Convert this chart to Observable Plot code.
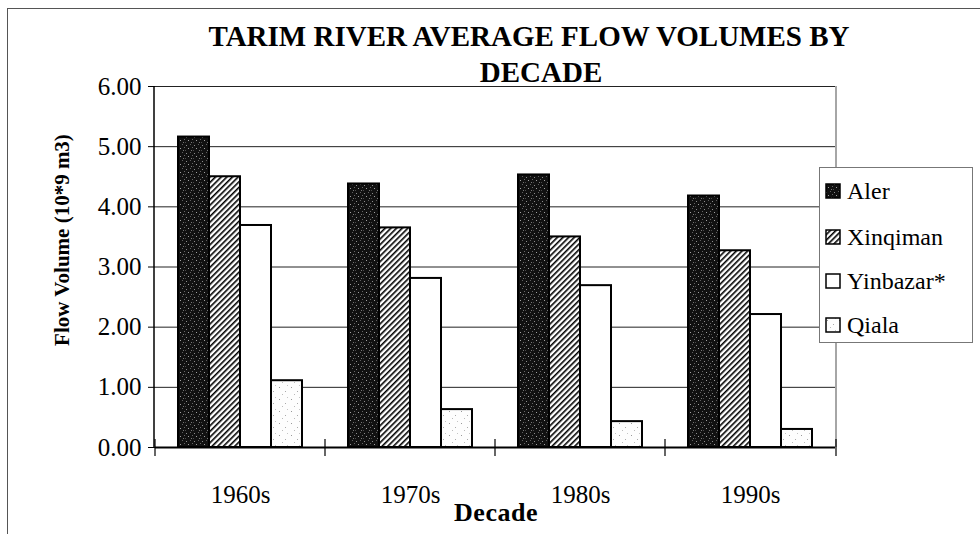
<!DOCTYPE html>
<html>
<head>
<meta charset="utf-8">
<script src="https://cdn.jsdelivr.net/npm/d3@7"></script>
<script src="https://cdn.jsdelivr.net/npm/@observablehq/plot@0.6"></script>
<style>
  html, body { margin: 0; padding: 0; background: #fff; }
  body { font-family: "Liberation Serif", "Times New Roman", serif; color: #000; }
  #wrap { position: relative; width: 980px; height: 534px; overflow: hidden; background: #fff; }
  #border { position: absolute; left: 7px; top: 8px; width: 980px; height: 540px;
            border-left: 1.5px solid #555; border-top: 1.5px solid #555; }
  #chart { position: absolute; left: 0; top: 0; }
  .title { position: absolute; font-weight: bold; font-size: 29px; line-height: 29px;
           text-align: center; white-space: nowrap; }
  #ylabel { position: absolute; left: 62px; top: 240px; font-weight: bold; font-size: 21px;
            white-space: nowrap; transform: translate(-50%, -50%) rotate(-90deg); line-height: 21px; }
  #xlabel { position: absolute; left: 496px; top: 500px; font-weight: bold; font-size: 26px;
            line-height: 26px; transform: translateX(-50%); white-space: nowrap; letter-spacing: 0.5px; }
  #legend { position: absolute; left: 819px; top: 167px; width: 154px; height: 176px;
            border: 1px solid #777; background: #fff; box-sizing: border-box; }
  .lrow { position: absolute; left: 5px; height: 26px; display: flex; align-items: center;
          font-size: 24px; line-height: 26px; white-space: nowrap; }
  .lrow svg { margin-right: 6px; }
</style>
</head>
<body>
<div id="wrap">
  <svg width="0" height="0" style="position:absolute">
    <defs>
      <pattern id="pAler" width="8" height="8" patternUnits="userSpaceOnUse">
        <rect width="8" height="8" fill="#111"/>
        <rect x="1" y="1" width="1" height="1" fill="#8c8c8c"/>
        <rect x="5" y="0" width="1" height="1" fill="#5e5e5e"/>
        <rect x="3" y="4" width="1" height="1" fill="#a0a0a0"/>
        <rect x="6" y="6" width="1" height="1" fill="#777"/>
        <rect x="0" y="6" width="1" height="1" fill="#4a4a4a"/>
        <rect x="7" y="3" width="1" height="1" fill="#666"/>
      </pattern>
      <pattern id="pXin" width="4" height="4" patternUnits="userSpaceOnUse" patternTransform="rotate(45)">
        <rect width="4" height="4" fill="#fff"/>
        <rect width="1.6" height="4" fill="#000"/>
      </pattern>
      <pattern id="pYin" width="4" height="4" patternUnits="userSpaceOnUse">
        <rect width="4" height="4" fill="#fff"/>
      </pattern>
      <pattern id="pQia" width="12" height="12" patternUnits="userSpaceOnUse">
        <rect width="12" height="12" fill="#fdfdfd"/>
        <rect x="2" y="3" width="1" height="1" fill="#999"/>
        <rect x="8" y="7" width="1" height="1" fill="#aaa"/>
        <rect x="5" y="10" width="1" height="1" fill="#bbb"/>
        <rect x="10" y="1" width="1" height="1" fill="#c4c4c4"/>
      </pattern>
    </defs>
  </svg>
  <div id="border"></div>
  <div id="chart"></div>
  <div class="title" style="left:0; width:1058px; top:22px;">TARIM RIVER AVERAGE FLOW VOLUMES BY</div>
  <div class="title" style="left:0; width:1082px; top:58px;">DECADE</div>
  <div id="ylabel">Flow Volume (10*9 m3)</div>
  <div id="xlabel">Decade</div>
  <div id="legend"></div>
</div>
<script>
// ---- data ----
const decades = ["1960s", "1970s", "1980s", "1990s"];
const stations = ["Aler", "Xinqiman", "Yinbazar*", "Qiala"];
const aler     = [5.16, 4.38, 4.53, 4.18];
const xinqiman = [4.50, 3.65, 3.50, 3.27];
const yinbazar = [3.69, 2.81, 2.69, 2.21];
const qiala    = [1.11, 0.63, 0.43, 0.30];
const yTicks = [0, 1, 2, 3, 4, 5, 6];

const series = [aler, xinqiman, yinbazar, qiala];
const fills = ["url(#pAler)", "url(#pXin)", "url(#pYin)", "url(#pQia)"];

const rows = [];
decades.forEach((d, i) => stations.forEach((s, j) => rows.push({decade: d, station: s, value: series[j][i]})));

const chart = Plot.plot({
  width: 980,
  height: 534,
  marginLeft: 154,
  marginRight: 144,
  marginTop: 86,
  marginBottom: 87,
  style: {fontFamily: "Liberation Serif, Times New Roman, serif", fontSize: "25px", color: "#000", background: "transparent", overflow: "visible"},
  facet: {data: rows, x: "decade"},
  fx: {domain: decades, padding: 0, label: null, axis: "bottom", tickSize: 0, tickPadding: 38},
  x: {domain: stations, paddingInner: 0, paddingOuter: 0.71, axis: null},
  y: {domain: [0, 6], ticks: yTicks, tickFormat: d3.format(".2f"), tickSize: 7, tickPadding: 7, label: null},
  color: {domain: stations, range: fills},
  marks: [
    Plot.ruleY(yTicks.filter(v => v > 0), {stroke: "#222", strokeWidth: 1}),
    Plot.barY(rows, {x: "station", y: "value", fill: "station", stroke: "#000", strokeWidth: 2}),
    Plot.ruleY([0], {stroke: "#000", strokeWidth: 2})
  ]
});
document.getElementById("chart").appendChild(chart);

// frame lines and category boundary ticks, from the plot's own scales
const fxS = chart.scale("fx");
const yS = chart.scale("y");
const y0 = yS.apply(0), yTop = yS.apply(6);
const xr = fxS.range;
const g = d3.select(chart).append("g").attr("fill", "none");
g.append("line").attr("x1", xr[0]).attr("x2", xr[0]).attr("y1", yTop).attr("y2", y0)
  .attr("stroke", "#000").attr("stroke-width", 1.5);
g.append("line").attr("x1", xr[1]).attr("x2", xr[1]).attr("y1", yTop).attr("y2", y0)
  .attr("stroke", "#888").attr("stroke-width", 1.5);
const bounds = decades.map(d => fxS.apply(d)).concat([xr[1]]);
bounds.forEach(b => {
  g.append("line").attr("x1", b).attr("x2", b).attr("y1", y0 - 8).attr("y2", y0 + 9)
    .attr("stroke", "#000").attr("stroke-width", 1.2);
});

// legend
const legend = d3.select("#legend");
const rowTops = [10, 56, 100, 144];
stations.forEach((s, i) => {
  const r = legend.append("div").attr("class", "lrow").style("top", rowTops[i] + "px");
  const sv = r.append("svg").attr("width", 16).attr("height", 16);
  sv.append("rect").attr("x", 1).attr("y", 1).attr("width", 14).attr("height", 14)
    .attr("fill", fills[i]).attr("stroke", "#000").attr("stroke-width", 1.5);
  r.append("span").text(s);
});
</script>
</body>
</html>
